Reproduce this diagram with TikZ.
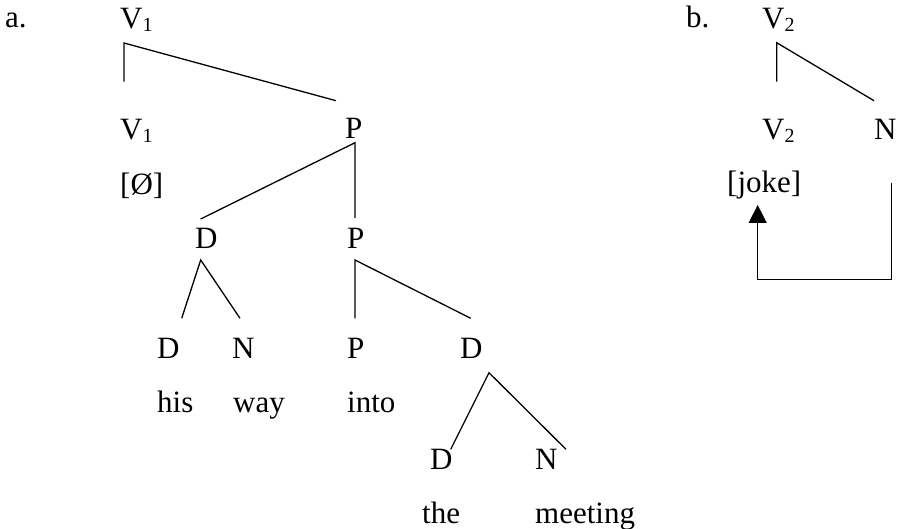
\documentclass[tikz,border=0pt]{standalone}
\usepackage{fontspec}
\setmainfont{Liberation Serif}
\usetikzlibrary{arrows.meta}
\newcommand{\lsub}[1]{\raisebox{-2.5pt}{\fontsize{20}{22}\selectfont #1}}
\begin{document}
\begin{tikzpicture}[x=1pt,y=-1pt,
  lbl/.style={anchor=base west,inner sep=0pt,font=\fontsize{31}{37}\selectfont},
  branch/.style={line width=1.3pt,line cap=butt,line join=miter}]
\useasboundingbox (0,0) rectangle (900,529);

% ---- tree (a) ----
\node[lbl] (tagA) at (5,28) {a.};
\node[lbl] (va) at (120,29) {V\lsub{1}};
\node[lbl] (vb) at (120,140) {V\lsub{1}};
\node[lbl] (pa) at (345,139) {P};
\node[lbl] (null) at (120,195) {[Ø]};
\node[lbl] (da) at (195,249) {D};
\node[lbl] (pb) at (347,249) {P};
\node[lbl] (db) at (157,359) {D};
\node[lbl] (na) at (232,359) {N};
\node[lbl] (pc) at (347,359) {P};
\node[lbl] (dc) at (460,359) {D};
\node[lbl] (his) at (157,413) {his};
\node[lbl] (way) at (233,413) {way};
\node[lbl] (into) at (347,413) {into};
\node[lbl] (dd) at (430,469) {D};
\node[lbl] (nb) at (535,469) {N};
\node[lbl] (the) at (422,523) {the};
\node[lbl] (meeting) at (535,523) {meeting};

\coordinate (vaApex) at (124,43);
\coordinate (vaL) at (124,81.7);
\coordinate (vaR) at (336,100.7);
\coordinate (paApex) at (355,142.7);
\coordinate (paL) at (200.7,219);
\coordinate (paR) at (355,218);
\coordinate (daApex) at (200.7,260);
\coordinate (daL) at (181.7,318.3);
\coordinate (daR) at (240,318.3);
\coordinate (pbApex) at (355,260);
\coordinate (pbL) at (355,318.3);
\coordinate (pbR) at (470.7,318.3);
\coordinate (dcApex) at (489,372.7);
\coordinate (dcL) at (450.7,449.3);
\coordinate (dcR) at (566,449.3);

\draw[branch] (vaL) -- (vaApex) -- (vaR);
\draw[branch] (paL) -- (paApex) -- (paR);
\draw[branch] (daL) -- (daApex) -- (daR);
\draw[branch] (pbL) -- (pbApex) -- (pbR);
\draw[branch] (dcL) -- (dcApex) -- (dcR);

% ---- tree (b) ----
\node[lbl] (tagB) at (686,28) {b.};
\node[lbl] (vc) at (762,29) {V\lsub{2}};
\node[lbl] (vd) at (762,140) {V\lsub{2}};
\node[lbl] (nc) at (874,140) {N};
\node[lbl] (joke) at (727,193) {[joke]};

\coordinate (vcApex) at (776.7,42.7);
\coordinate (vcL) at (776.7,81.7);
\coordinate (vcR) at (874,100.7);
\draw[branch] (vcL) -- (vcApex) -- (vcR);

% movement arrow from N back to [joke]
\coordinate (mvStart) at (891.7,182.7);
\coordinate (mvEnd) at (757.7,205);
\draw[branch,-{Triangle[width=18pt,length=18pt]}]
  (mvStart) -- (891.7,279.3) -- (757.7,279.3) -- (mvEnd);
\end{tikzpicture}
\end{document}
